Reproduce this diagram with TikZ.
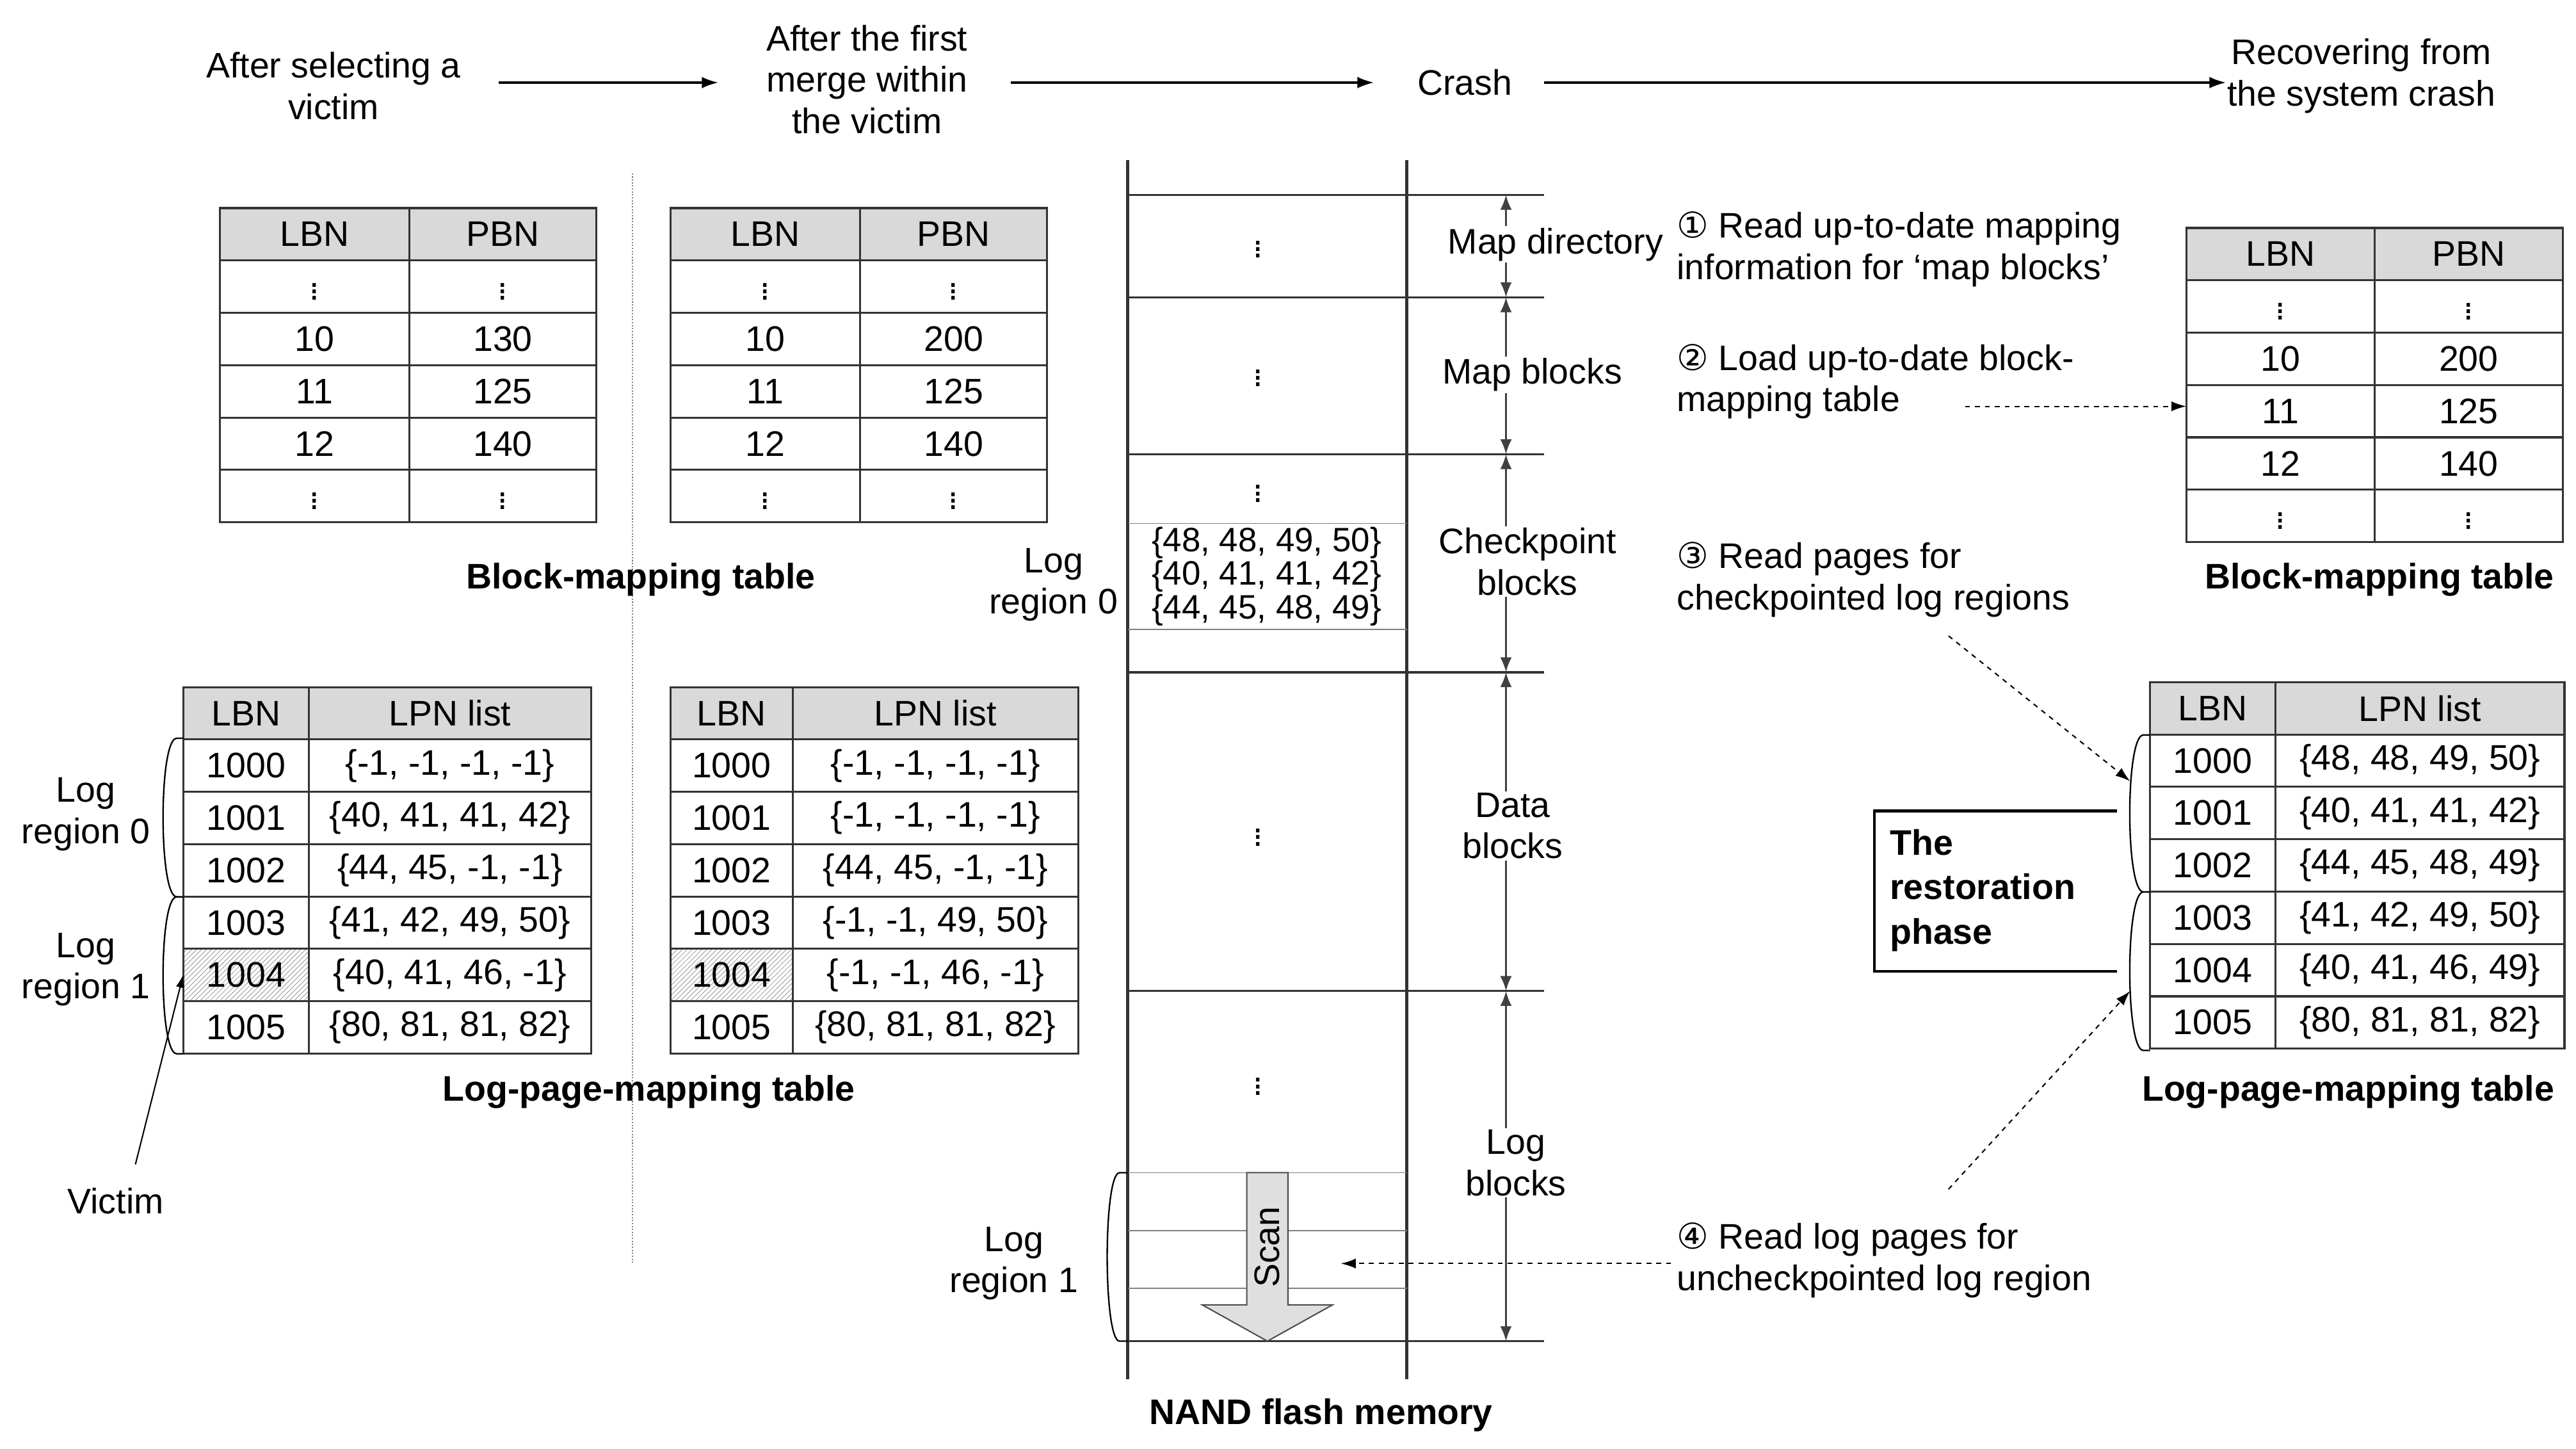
\documentclass[tikz,border=0pt]{standalone}
\usepackage{fontspec}
\setmainfont{Liberation Sans}
\newfontfamily\dv{DejaVu Sans}
\usetikzlibrary{arrows.meta,patterns}
\begin{document}
\begin{tikzpicture}[x=1pt,y=-1pt,font=\fontsize{21.5}{25}\selectfont,
  ln/.style={line width=1.2pt,draw=black!80},
  hdr/.style={ln,fill=gray!30},
  lbl/.style={align=center,inner sep=1pt},
  captxt/.style={font=\fontsize{21.5}{25}\selectfont\bfseries},
  flow/.style={-{Latex[length=10pt,width=7pt]},line width=1.2pt},
  dim/.style={{Latex[length=9pt,width=7pt]}-{Latex[length=9pt,width=7pt]},line width=1.2pt,draw=black!75},
  dsh/.style={-{Latex[length=9pt,width=6pt]},dashed,line width=0.8pt},
  brace/.style={line width=0.9pt}]
\useasboundingbox (0,0) rectangle (1560,877);
\newcommand\mytab[8]{% x0 x1 x2 y0 h head1 head2 rows
  \path[hdr] (#1,#4) rectangle (#2,#4+#5);
  \path[hdr] (#2,#4) rectangle (#3,#4+#5);
  \node[inner sep=0pt] at ({(#1+#2)/2},#4+#5/2) {#6};
  \node[inner sep=0pt] at ({(#2+#3)/2},#4+#5/2) {#7};
  \foreach \a/\b [count=\i] in {#8}{
    \pgfmathsetmacro\yt{#4+\i*#5}
    \path[ln] (#1,\yt) rectangle (#2,\yt+#5);
    \path[ln] (#2,\yt) rectangle (#3,\yt+#5);
    \node[inner sep=0pt] at ({(#1+#2)/2},\yt+#5/2) {\a};
    \node[inner sep=0pt] at ({(#2+#3)/2},\yt+#5/2) {\b};
  }}
% top flow
\node[lbl] (s1) at (202,52) {After selecting a\\victim};
\node[lbl] (s2) at (525,48) {After the first\\merge within\\the victim};
\node[lbl] (s3) at (887,50) {Crash};
\node[lbl] (s4) at (1430,46) {Recovering from\\the system crash};
\draw[flow] (302,50) -- (435,50);
\draw[flow] (612,50) -- (832,50);
\draw[flow] (935,50) -- (1348,50);
% separator
\draw[densely dotted,line width=0.8pt,gray] (383,105) -- (383,765);
% block tables
\mytab{133}{248}{361}{126}{31.7}{LBN}{PBN}{$\vdots$/$\vdots$,10/130,11/125,12/140,$\vdots$/$\vdots$}
\mytab{406}{521}{634}{126}{31.7}{LBN}{PBN}{$\vdots$/$\vdots$,10/200,11/125,12/140,$\vdots$/$\vdots$}
\node[captxt] (c1) at (388,351) {Block-mapping table};
% log tables
\path[pattern=north east lines,pattern color=gray!70] (111,574.4) rectangle (187,606.1);
\path[pattern=north east lines,pattern color=gray!70] (406,574.4) rectangle (480,606.1);
\mytab{111}{187}{358}{416}{31.7}{LBN}{LPN list}{1000/{\{-1, -1, -1, -1\}},1001/{\{40, 41, 41, 42\}},1002/{\{44, 45, -1, -1\}},1003/{\{41, 42, 49, 50\}},1004/{\{40, 41, 46, -1\}},1005/{\{80, 81, 81, 82\}}}
\mytab{406}{480}{653}{416}{31.7}{LBN}{LPN list}{1000/{\{-1, -1, -1, -1\}},1001/{\{-1, -1, -1, -1\}},1002/{\{44, 45, -1, -1\}},1003/{\{-1, -1, 49, 50\}},1004/{\{-1, -1, 46, -1\}},1005/{\{80, 81, 81, 82\}}}
\node[captxt] (c2) at (393,661) {Log-page-mapping table};
\draw[brace] (111,447) -- (107,447) .. controls (96,447) and (96,543) .. (107,543) -- (111,543);
\draw[brace] (111,543) -- (107,543) .. controls (96,543) and (96,638) .. (107,638) -- (111,638);
\node[lbl] (lr0) at (52,493) {Log\\region 0};
\node[lbl] (lr1) at (52,587) {Log\\region 1};
\node[lbl] (vic) at (70,727) {Victim};
\coordinate (vt) at (111,590);
\draw[-{Latex[length=8pt,width=5pt]},line width=0.8pt] (82,705) -- (vt);
% NAND
\draw[line width=2pt,black!80] (683,97) -- (683,835);
\draw[line width=2pt,black!80] (852,97) -- (852,835);
\foreach \y in {118,180,275,407,600,812} \draw[line width=1.3pt,black!80] (683,\y) -- (935,\y);
\foreach \y in {148,226,296,504,655} \node at (762,\y) {$\vdots$};
\draw[line width=0.6pt,gray] (683,317) -- (852,317) (683,381) -- (852,381);
\node[lbl,font=\fontsize{20.5}{20.5}\selectfont] (cp) at (767,349) {\{48, 48, 49, 50\}\\\{40, 41, 41, 42\}\\\{44, 45, 48, 49\}};
\node[lbl] (nlr0) at (638,354) {Log\\region 0};
\foreach \y in {710,745,780} \draw[line width=0.6pt,gray] (683,\y) -- (852,\y);
\draw[brace] (683,710) -- (678,710) .. controls (668,710) and (668,812) .. (678,812) -- (683,812);
\node[lbl] (nlr1) at (614,765) {Log\\region 1};
\draw[line width=0.8pt,black!70,fill=gray!25] (755,710) -- (780,710) -- (780,790) -- (807,790) -- (767.5,812) -- (728,790) -- (755,790) -- cycle;
\node[rotate=90] (scan) at (767.5,755) {Scan};
\foreach \a/\b in {118/180,180/275,275/407,407/600,600/812}{
  \draw[dim] (912,\a) -- (912,\b);
}
\node[lbl,fill=white] (md) at (942,148) {Map directory};
\node[lbl,fill=white] (mb) at (928,227) {Map blocks};
\node[lbl,fill=white] (cb) at (925,340) {Checkpoint\\blocks};
\node[lbl,fill=white] (db) at (916,500) {Data\\blocks};
\node[lbl,fill=white] (lb) at (918,704) {Log\\blocks};
\node[captxt] (nand) at (800,857) {NAND flash memory};
% right steps
\node[align=left,anchor=west] (st1) at (1012,151) {{\dv ①} Read up-to-date mapping\\information for ‘map blocks’};
\node[align=left,anchor=west] (st2) at (1012,231) {{\dv ②} Load up-to-date block-\\mapping table};
\node[align=left,anchor=west] (st3) at (1012,351) {{\dv ③} Read pages for\\checkpointed log regions};
\node[align=left,anchor=west] (st4) at (1012,763) {{\dv ④} Read log pages for\\uncheckpointed log region};
\mytab{1324}{1438}{1552}{138}{31.7}{LBN}{PBN}{$\vdots$/$\vdots$,10/200,11/125,12/140,$\vdots$/$\vdots$}
\node[captxt] (c3) at (1441,351) {Block-mapping table};
\mytab{1302}{1378}{1553}{413}{31.7}{LBN}{LPN list}{1000/{\{48, 48, 49, 50\}},1001/{\{40, 41, 41, 42\}},1002/{\{44, 45, 48, 49\}},1003/{\{41, 42, 49, 50\}},1004/{\{40, 41, 46, 49\}},1005/{\{80, 81, 81, 82\}}}
\node[captxt] (c4) at (1422,661) {Log-page-mapping table};
\draw[brace] (1302,445) -- (1298,445) .. controls (1287,445) and (1287,540) .. (1298,540) -- (1302,540);
\draw[brace] (1302,540) -- (1298,540) .. controls (1287,540) and (1287,636) .. (1298,636) -- (1302,636);
\draw[line width=1.6pt] (1282,491) -- (1135,491) -- (1135,588) -- (1282,588);
\node[align=left,anchor=west,font=\fontsize{21.5}{27}\selectfont\bfseries] (rest) at (1141,539) {The\\restoration\\phase};
\coordinate (t2) at (1324,246);
\coordinate (t3) at (1290,473);
\coordinate (t4) at (1290,600);
\coordinate (t5) at (812,765);
\draw[dsh] (1190,246) -- (t2);
\draw[dsh] (1180,385) -- (t3);
\draw[dsh] (1180,720) -- (t4);
\draw[dsh] (1012,765) -- (t5);
\end{tikzpicture}
\end{document}
